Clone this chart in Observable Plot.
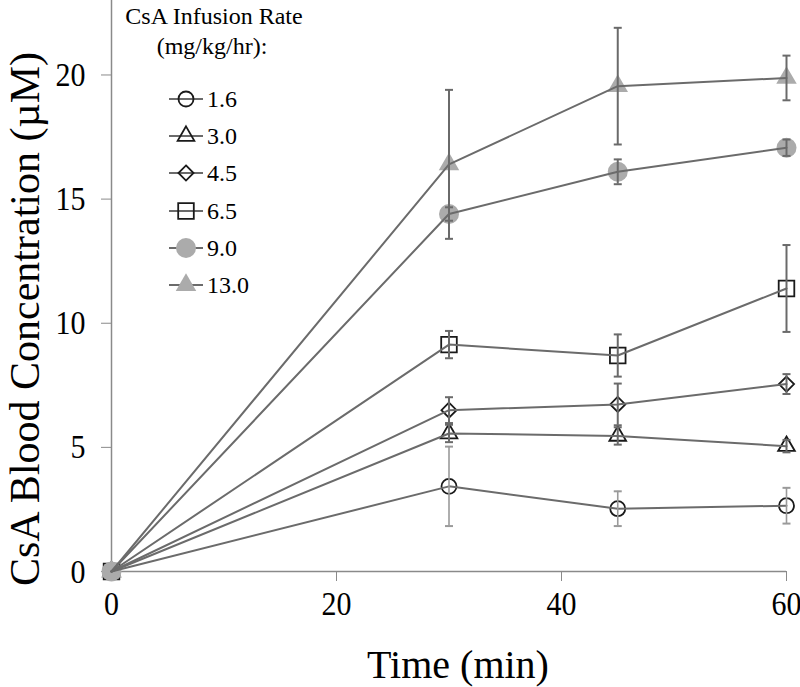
<!DOCTYPE html>
<html><head><meta charset="utf-8">
<script src="https://cdn.jsdelivr.net/npm/d3@7"></script>
<script src="https://cdn.jsdelivr.net/npm/@observablehq/plot@0.6"></script>
<style>
body{margin:0;background:#fff;}
#wrap{position:relative;width:800px;height:687px;font-family:"Liberation Serif","Times New Roman",serif;}
#legend{position:absolute;left:0;top:0;width:800px;pointer-events:none;color:#000;}
.lt{position:absolute;font-size:24px;line-height:24px;white-space:nowrap;transform:translate(-50%,-50%);}
.row{position:absolute;display:flex;align-items:center;font-size:24px;line-height:24px;}
.row svg{display:block;margin-right:3px;}
</style></head><body><div id="wrap"><div id="legend"></div></div>
<script>
// ---- data ----
const times = [0, 30, 45, 60];
const rates = ["1.6", "3.0", "4.5", "6.5", "9.0", "13.0"];
const mean_1_6  = [0, 3.43, 2.53, 2.65];
const err_1_6   = [0, 1.6, 0.7, 0.72];
const mean_3_0  = [0, 5.56, 5.46, 5.05];
const err_3_0   = [0, 0.35, 0.35, 0.25];
const mean_4_5  = [0, 6.5, 6.73, 7.55];
const err_4_5   = [0, 0.52, 0.84, 0.4];
const mean_6_5  = [0, 9.14, 8.7, 11.4];
const err_6_5   = [0, 0.55, 0.85, 1.75];
const mean_9_0  = [0, 14.4, 16.1, 17.07];
const err_9_0   = [0, 0.27, 0.5, 0.33];
const mean_13_0 = [0, 16.4, 19.55, 19.88];
const err_13_0  = [0, 3.0, 2.35, 0.9];
const xTicks = [0, 20, 40, 60];
const yTicks = [0, 5, 10, 15, 20];
const legendTitle = ["CsA Infusion Rate", "(mg/kg/hr):"];
const xLabel = "Time (min)";
const yLabel = "CsA Blood Concentration (µM)";

// ---- styles ----
const means = [mean_1_6, mean_3_0, mean_4_5, mean_6_5, mean_9_0, mean_13_0];
const errs  = [err_1_6, err_3_0, err_4_5, err_6_5, err_9_0, err_13_0];
const styles = {
  "1.6":  {symbol: "circle",   r: 7.5, fill: "none", stroke: "#1a1a1a", err: "#9a9a9a"},
  "3.0":  {symbol: "triangle", r: 6.2, fill: "none", stroke: "#1a1a1a", err: "#6a6a6a"},
  "4.5":  {symbol: "diamond2", r: 6.8, fill: "none", stroke: "#1a1a1a", err: "#6a6a6a"},
  "6.5":  {symbol: "square",   r: 8.8, fill: "none", stroke: "#1a1a1a", err: "#6a6a6a"},
  "9.0":  {symbol: "circle",   r: 10,  fill: "#ababab", stroke: "none", err: "#6a6a6a"},
  "13.0": {symbol: "triangle", r: 7.6, fill: "#ababab", stroke: "none", err: "#6a6a6a"}
};
const lineColor = "#6b6b6b";
const axisColor = "#8a8a8a";

const rows = rates.flatMap((rate, i) => times.map((t, j) => ({
  rate, time: t, value: means[i][j], err: errs[i][j]
})));
const errRows = rows.filter(d => d.err > 0);

const cap = {draw(ctx) { ctx.moveTo(-4, 0); ctx.lineTo(4, 0); }};

const marks = [
  Plot.ruleX([0], {stroke: axisColor, strokeWidth: 1.5}),
  Plot.ruleY([0], {stroke: axisColor, strokeWidth: 1.5}),
  Plot.axisX({ticks: xTicks, tickSize: 10, tickPadding: 9, fontSize: 30, stroke: axisColor, fill: "#000", label: null, tickFormat: d => String(d)}),
  Plot.axisY({ticks: yTicks, tickSize: 10, tickPadding: 16, fontSize: 30, stroke: axisColor, fill: "#000", label: null, tickFormat: d => String(d)}),
];
// markers first (lines and error bars drawn over them)
for (const rate of rates) {
  const s = styles[rate];
  marks.push(Plot.dot(rows.filter(d => d.rate === rate), {
    x: "time", y: "value", symbol: s.symbol, r: s.r, fill: s.fill, stroke: s.stroke, strokeWidth: 1.8
  }));
}
marks.push(Plot.line(rows, {x: "time", y: "value", z: "rate", stroke: lineColor, strokeWidth: 2}));
for (const rate of rates) {
  const s = styles[rate];
  const er = errRows.filter(d => d.rate === rate);
  marks.push(Plot.ruleX(er, {x: "time", y1: d => d.value - d.err, y2: d => d.value + d.err, stroke: s.err, strokeWidth: rate === "1.6" ? 1.6 : 2}));
  marks.push(Plot.dot(er, {x: "time", y: d => d.value - d.err, symbol: cap, r: 4, stroke: s.err, strokeWidth: 2}));
  marks.push(Plot.dot(er, {x: "time", y: d => d.value + d.err, symbol: cap, r: 4, stroke: s.err, strokeWidth: 2}));
}
marks.push(Plot.text([yLabel], {frameAnchor: "left", textAnchor: "middle", rotate: -90, dx: -86, dy: 33, fontSize: 42, fill: "#000", lineAnchor: "middle"}));
marks.push(Plot.text([xLabel], {frameAnchor: "bottom", textAnchor: "middle", dx: 9, dy: 94, fontSize: 40, fill: "#000", lineAnchor: "middle"}));

const chart = Plot.plot({
  width: 800, height: 687,
  marginLeft: 111, marginRight: 14, marginTop: 0, marginBottom: 116,
  x: {domain: [0, 60]},
  y: {domain: [0, 23]},
  style: {fontFamily: "'Liberation Serif','Times New Roman',serif", background: "#fff", overflow: "visible"},
  marks
});
document.getElementById("wrap").prepend(chart);
// tick labels in the reference are slightly taller than wide
d3.select(chart).selectAll('g[aria-label="x-axis tick label"] text, g[aria-label="y-axis tick label"] text')
  .attr("transform", function() { return (this.getAttribute("transform") || "") + " scale(1,1.15)"; });

// ---- legend (HTML overlay) ----
const leg = document.getElementById("legend");
const tcenters = [[214, 16], [212, 46]];
legendTitle.forEach((t, i) => {
  const el = document.createElement("div");
  el.className = "lt"; el.textContent = t;
  el.style.left = tcenters[i][0] + "px"; el.style.top = tcenters[i][1] + "px";
  leg.appendChild(el);
});
const symMap = {circle: d3.symbolCircle, triangle: d3.symbolTriangle, diamond2: d3.symbolDiamond2, square: d3.symbolSquare};
rates.forEach((rate, i) => {
  const s = styles[rate];
  const row = document.createElement("div");
  row.className = "row";
  row.style.left = "168px"; row.style.top = (99 + i * 37.2 - 13) + "px";
  const svg = d3.create("svg").attr("width", 36).attr("height", 26);
  svg.append("line").attr("x1", 1).attr("x2", 35).attr("y1", 13).attr("y2", 13).attr("stroke", lineColor).attr("stroke-width", 2);
  svg.append("path").attr("transform", "translate(18,13)")
    .attr("d", d3.symbol(symMap[s.symbol], Math.PI * s.r * s.r)())
    .attr("fill", s.fill === "none" ? "none" : s.fill).attr("stroke", s.stroke).attr("stroke-width", 1.8);
  row.appendChild(svg.node());
  const span = document.createElement("span"); span.textContent = rate;
  row.appendChild(span);
  leg.appendChild(row);
});
</script></body></html>
